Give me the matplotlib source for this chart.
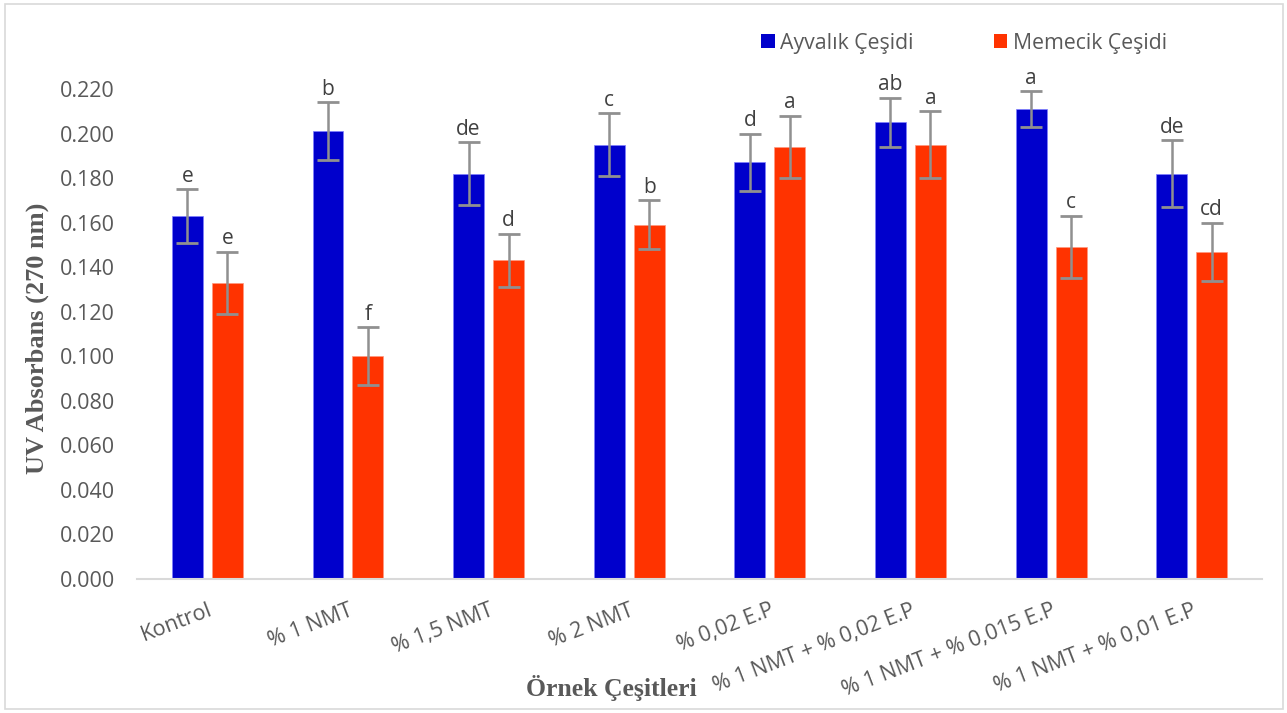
import matplotlib
matplotlib.use("Agg")
import matplotlib.pyplot as plt
import numpy as np
from matplotlib.patches import Rectangle, Patch

categories = ["Kontrol", "% 1 NMT", "% 1,5 NMT", "% 2 NMT", "% 0,02 E.P",
              "% 1 NMT + % 0,02 E.P", "% 1 NMT + % 0,015 E.P", "% 1 NMT + % 0,01 E.P"]
ayvalik = [0.163, 0.201, 0.182, 0.195, 0.187, 0.205, 0.211, 0.182]
ayvalik_err = [0.012, 0.013, 0.014, 0.014, 0.013, 0.011, 0.008, 0.015]
ayvalik_letters = ["e", "b", "de", "c", "d", "ab", "a", "de"]
memecik = [0.133, 0.100, 0.143, 0.159, 0.194, 0.195, 0.149, 0.147]
memecik_err = [0.014, 0.013, 0.012, 0.011, 0.014, 0.015, 0.014, 0.013]
memecik_letters = ["e", "f", "d", "b", "a", "a", "c", "cd"]
yticks = [0.0, 0.02, 0.04, 0.06, 0.08, 0.10, 0.12, 0.14, 0.16, 0.18, 0.20, 0.22]

W, H = 1287, 713
fig = plt.figure(figsize=(W / 100, H / 100), dpi=100)
fig.patch.set_facecolor("white")
ax = fig.add_axes([137 / W, 1 - 579 / H, 1125 / W, 490 / H])

blue = "#0000CC"
red = "#FF3300"
text_gray = "#595959"
font = "Open Sans"

x = np.arange(len(categories))
bw = 0.22
off = 0.142
ax.bar(x - off, ayvalik, bw, color=blue, edgecolor="#8080ff", linewidth=0.5, zorder=2)
ax.bar(x + off, memecik, bw, color=red, edgecolor="#ff9980", linewidth=0.5, zorder=2)
for xs, vals, errs in [(x - off, ayvalik, ayvalik_err), (x + off, memecik, memecik_err)]:
    _, caps, bars = ax.errorbar(xs, vals, yerr=errs, fmt="none", ecolor="#909090",
                                elinewidth=1.8, capsize=8, capthick=2, zorder=3)
    for c in caps:
        c.set_color("#5a5a5a")

for xs, vals, errs, labs in [(x - off, ayvalik, ayvalik_err, ayvalik_letters),
                             (x + off, memecik, memecik_err, memecik_letters)]:
    for xi, v, e, l in zip(xs, vals, errs, labs):
        ax.annotate(l, (xi, v + e), xytext=(0, 5.5), textcoords="offset points",
                    ha="center", va="baseline", fontsize=15, color="#404040",
                    family=font, zorder=4)

ax.set_xlim(-0.5, len(categories) - 0.5)
ax.set_ylim(0, 0.22)
ax.set_yticks(yticks)
ax.set_yticklabels([f"{t:.3f}" for t in yticks], fontsize=15.5, color=text_gray, family=font)
ax.set_xticks(x)
ax.set_xticklabels(categories, rotation=21, ha="right", rotation_mode="anchor",
                   fontsize=15.5, color=text_gray, family=font)
ax.tick_params(axis="both", length=0)
ax.tick_params(axis="x", pad=15)
ax.tick_params(axis="y", pad=16)
for s in ["top", "right", "left"]:
    ax.spines[s].set_visible(False)
ax.spines["bottom"].set_color("#D9D9D9")
ax.spines["bottom"].set_linewidth(1.5)

fig.text(37 / W, 1 - 338 / H, "UV Absorbans (270 nm)", rotation=90, ha="center", va="center",
         fontsize=19, fontweight="bold", family="Liberation Serif", color=text_gray)
fig.text(611 / W, 1 - 688 / H, "Örnek Çeşitleri", ha="center", va="center",
         fontsize=18.5, fontweight="bold", family="Liberation Serif", color=text_gray)

handles = [Patch(facecolor=blue, edgecolor="none"), Patch(facecolor=red, edgecolor="none")]
fig.legend(handles, ["Ayvalık Çeşidi", "Memecik Çeşidi"], loc="center",
           bbox_to_anchor=(964 / W, 1 - 43 / H), ncol=2, frameon=False,
           handlelength=0.62, handleheight=0.62, handletextpad=0.25, columnspacing=3.8,
           prop={"family": font, "size": 15.3}, labelcolor=text_gray)

fig.add_artist(Rectangle((5 / W, 4 / H), 1 - 9 / W, 1 - 8 / H, transform=fig.transFigure,
                         fill=False, edgecolor="#D9D9D9", linewidth=1.2))

fig.savefig("out.png", dpi=100)
